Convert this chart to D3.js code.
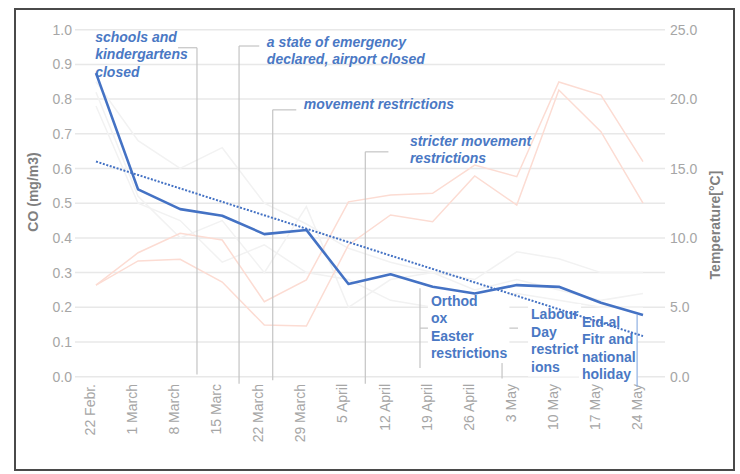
<!DOCTYPE html>
<html>
<head>
<meta charset="utf-8">
<script src="https://cdn.jsdelivr.net/npm/d3@7"></script>
<style>
  body { margin: 0; background: #fff; }
  svg text { font-family: "Liberation Sans", Arial, sans-serif; }
</style>
</head>
<body>
<div id="chart"></div>
<script>
var dates = ['22 Febr.', '1 March', '8 March', '15 Marc', '22 March', '29 March', '5 April',
             '12 April', '19 April', '26 April', '3 May', '10 May', '17 May', '24 May'];

// CO weekly mean 2020 (mg/m3)
var co2020 = [0.875, 0.54, 0.483, 0.464, 0.411, 0.423, 0.267, 0.295, 0.259, 0.24, 0.264, 0.259, 0.213, 0.178];
// linear trend, first and last week
var coTrend = [0.62, 0.117];
// faint CO lines of other years
var coOtherA = [0.85, 0.68, 0.60, 0.66, 0.50, 0.44, 0.37, 0.33, 0.30, 0.28, 0.36, 0.34, 0.30, 0.30];
var coOtherB = [0.82, 0.52, 0.40, 0.45, 0.30, 0.49, 0.20, 0.28, 0.30, 0.25, 0.28, 0.25, 0.22, 0.24];
var coOtherC = [0.78, 0.50, 0.45, 0.33, 0.38, 0.30, 0.28, 0.22, 0.20, 0.23, 0.24, 0.22, 0.20, 0.20];
// temperature (°C)
var tempA = [6.6, 8.93, 10.33, 9.85, 5.4, 6.97, 12.6, 13.09, 13.21, 15.25, 14.41, 21.23, 20.29, 15.49];
var tempB = [6.6, 8.34, 8.46, 6.82, 3.72, 3.65, 9.49, 11.65, 11.17, 14.46, 12.37, 20.65, 17.65, 12.51];

var coTicks = [0, 0.1, 0.2, 0.3, 0.4, 0.5, 0.6, 0.7, 0.8, 0.9, 1.0];
var tempTicks = [0, 5, 10, 15, 20, 25];

// annotations: position in week index / CO value
var notes = [
  { lines: ['schools and', 'kindergartens', 'closed'], tx: -0.02, ty: 0.965, italic: true,
    lineAt: 2.4, lineTop: 0.948, hookFrom: 1.95, bottom: 0.006 },
  { lines: ['a state of emergency', 'declared, airport closed'], tx: 4.06, ty: 0.951, italic: true,
    lineAt: 3.4, lineTop: 0.953, hookTo: 3.88, bottom: -0.02 },
  { lines: ['movement restrictions'], tx: 4.94, ty: 0.771, italic: true,
    lineAt: 4.2, lineTop: 0.769, hookTo: 4.76, bottom: -0.01 },
  { lines: ['stricter movement', 'restrictions'], tx: 7.46, ty: 0.665, italic: true,
    lineAt: 6.4, lineTop: 0.648, hookTo: 6.95, bottom: -0.02 },
  { lines: ['Orthod', 'ox', 'Easter', 'restrictions'], tx: 7.96, ty: 0.205, box: true,
    lineAt: 7.7, lineTop: 0.255, lineBottom: 0.025, tick: 0.14 },
  { lines: ['Labour', 'Day', 'restrict', 'ions'], tx: 10.34, ty: 0.166, box: true,
    lineAt: 9.65, lineTop: 0.255, lineBottom: -0.005, tick: 0.14 },
  { lines: ['Eid-al', 'Fitr and', 'national', 'holiday'], tx: 11.55, ty: 0.144, box: true,
    blueAt: 12.86, blueTop: 0.178, blueBottom: -0.03 }
];

var width = 740, height = 474;
var svg = d3.select('#chart').append('svg')
  .attr('width', width)
  .attr('height', height);

var plotTop = 29.7, plotBottom = 376.7, gridLeft = 75, gridRight = 665;

var x = d3.scalePoint().domain(dates).range([96, 643]);
var xi = d3.scaleLinear().domain([0, dates.length - 1]).range([96, 643]);
var y = d3.scaleLinear().domain([0, 1]).range([plotBottom, plotTop]);
var yT = d3.scaleLinear().domain([0, 25]).range([plotBottom, plotTop]);

// frame
svg.append('rect')
  .attr('x', 15).attr('y', 9)
  .attr('width', 719).attr('height', 461)
  .attr('fill', 'none')
  .attr('stroke', '#4a4a4a')
  .attr('stroke-width', 2);

// gridlines
svg.append('g').selectAll('line')
  .data(coTicks)
  .enter().append('line')
  .attr('x1', gridLeft).attr('x2', gridRight)
  .attr('y1', function(d) { return y(d); })
  .attr('y2', function(d) { return y(d); })
  .attr('stroke', '#e8e8e8')
  .attr('stroke-width', 1.5);

// left axis labels
svg.append('g').selectAll('text')
  .data(coTicks)
  .enter().append('text')
  .attr('x', 72)
  .attr('y', function(d) { return y(d); })
  .attr('dy', '0.36em')
  .attr('text-anchor', 'end')
  .attr('font-size', 14)
  .attr('fill', '#a6a6a6')
  .text(function(d) { return d.toFixed(1); });

// right axis labels
svg.append('g').selectAll('text')
  .data(tempTicks)
  .enter().append('text')
  .attr('x', 670)
  .attr('y', function(d) { return yT(d); })
  .attr('dy', '0.36em')
  .attr('font-size', 14)
  .attr('fill', '#a6a6a6')
  .text(function(d) { return d.toFixed(1); });

// x labels
svg.append('g').selectAll('text')
  .data(dates)
  .enter().append('text')
  .attr('transform', function(d) { return 'translate(' + (x(d) - 1) + ',384) rotate(-90)'; })
  .attr('text-anchor', 'end')
  .attr('font-size', 14)
  .attr('fill', '#a6a6a6')
  .text(function(d) { return d; });

// axis titles
svg.append('text')
  .attr('transform', 'translate(38,192) rotate(-90)')
  .attr('text-anchor', 'middle')
  .attr('font-size', 14)
  .attr('font-weight', 'bold')
  .attr('fill', '#808080')
  .text('CO (mg/m3)');

svg.append('text')
  .attr('transform', 'translate(720,225) rotate(-90)')
  .attr('text-anchor', 'middle')
  .attr('font-size', 14)
  .attr('font-weight', 'bold')
  .attr('fill', '#808080')
  .text('Temperature[°C]');

var coLine = d3.line()
  .x(function(d, i) { return x(dates[i]); })
  .y(function(d) { return y(d); });
var tLine = d3.line()
  .x(function(d, i) { return x(dates[i]); })
  .y(function(d) { return yT(d); });

// faint lines
var faint = svg.append('g').attr('fill', 'none').attr('stroke-width', 1.5);
[coOtherA, coOtherB, coOtherC].forEach(function(s) {
  faint.append('path').attr('d', coLine(s)).attr('stroke', '#f2f2f2');
});
[tempA, tempB].forEach(function(s) {
  faint.append('path').attr('d', tLine(s)).attr('stroke', '#fcdcd3');
});

// annotation leader lines
var leaders = svg.append('g').attr('stroke', '#c4c4c4').attr('stroke-width', 1.2).attr('fill', 'none');
notes.forEach(function(n) {
  if (n.lineAt === undefined) return;
  if (n.box) {
    leaders.append('line')
      .attr('x1', xi(n.lineAt)).attr('x2', xi(n.lineAt))
      .attr('y1', y(n.lineTop)).attr('y2', y(n.lineBottom));
    leaders.append('line')
      .attr('x1', xi(n.lineAt)).attr('x2', xi(n.lineAt) + 16)
      .attr('y1', y(n.tick)).attr('y2', y(n.tick));
  } else {
    leaders.append('line')
      .attr('x1', xi(n.lineAt)).attr('x2', xi(n.lineAt))
      .attr('y1', y(n.lineTop)).attr('y2', y(n.bottom));
    var hx = n.hookFrom !== undefined ? n.hookFrom : n.hookTo;
    leaders.append('line')
      .attr('x1', xi(n.lineAt)).attr('x2', xi(hx))
      .attr('y1', y(n.lineTop)).attr('y2', y(n.lineTop));
  }
});

// annotation text
var notesG = svg.append('g');
notes.forEach(function(n) {
  var g = notesG.append('g');
  var bg = g.append('rect').attr('fill', '#fff');
  var t = g.append('text')
    .attr('font-size', 14)
    .attr('font-weight', 'bold')
    .attr('font-style', n.italic ? 'italic' : 'normal')
    .attr('fill', '#4a78c4');
  n.lines.forEach(function(l, i) {
    t.append('tspan')
      .attr('x', xi(n.tx))
      .attr('y', y(n.ty) + i * 17.5)
      .text(l);
  });
  if (n.box) {
    var b = t.node().getBBox();
    bg.attr('x', b.x - 3).attr('y', b.y - 2)
      .attr('width', b.width + 5).attr('height', b.height + 4);
  } else {
    bg.remove();
  }
  if (n.blueAt !== undefined) {
    g.append('line')
      .attr('x1', xi(n.blueAt)).attr('x2', xi(n.blueAt))
      .attr('y1', y(n.blueTop)).attr('y2', y(n.blueBottom))
      .attr('stroke', '#8fb0e2')
      .attr('stroke-width', 1.2);
  }
});

// trend (dotted)
svg.append('line')
  .attr('x1', x(dates[0])).attr('y1', y(coTrend[0]))
  .attr('x2', x(dates[dates.length - 1])).attr('y2', y(coTrend[1]))
  .attr('stroke', '#4472c4')
  .attr('stroke-width', 2)
  .attr('stroke-dasharray', '2,1.6');

// main CO line
svg.append('path')
  .attr('d', coLine(co2020))
  .attr('fill', 'none')
  .attr('stroke', '#4472c4')
  .attr('stroke-width', 2.6)
  .attr('stroke-linejoin', 'round');
</script>
</body>
</html>
